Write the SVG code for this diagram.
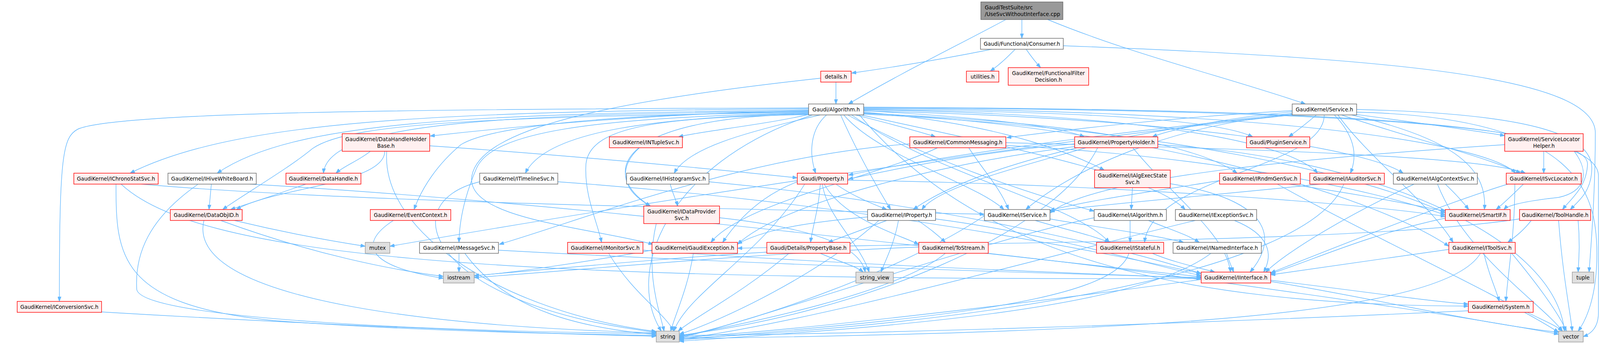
<svg xmlns="http://www.w3.org/2000/svg" width="4596" height="880" viewBox="0 0 4596 880">
<defs>
<marker id="ah" markerWidth="12" markerHeight="9" refX="12" refY="4.5" orient="auto" markerUnits="userSpaceOnUse"><path d="M0,0 L12,4.5 L0,9 z" fill="#63b8ff" stroke="#63b8ff" stroke-width="1"/></marker>
</defs>
<style>
.e{fill:none;stroke:#63b8ff;stroke-width:1.4;marker-end:url(#ah)}
.r{fill:#fff0f0;stroke:#ff0000;stroke-width:1.4}
.w{fill:#ffffff;stroke:#666666;stroke-width:1.4}
.g{fill:#e0e0e0;stroke:#999999;stroke-width:1.4}
.t{fill:#999999;stroke:#666666;stroke-width:1.4}
text{font-family:"DejaVu Sans","Liberation Sans",sans-serif;font-size:13.3px;fill:#000000;text-anchor:middle}
text.l{text-anchor:start}
</style>
<rect x="0" y="0" width="4596" height="880" fill="#ffffff"/>
<g id="edges">
<path class="e" d="M2575,50 C2450,117 2300,190 2172,266"/>
<path class="e" d="M2616,50 L2616,98"/>
<path class="e" d="M2682,50 C2900,140 3150,200 3342,266"/>
<path class="e" d="M2539,126 C2420,150 2300,170 2180,187"/>
<path class="e" d="M2599,126 C2580,145 2560,165 2535,182"/>
<path class="e" d="M2627,126 C2640,145 2652,160 2664,173"/>
<path class="e" d="M2722,117 C3600,150 4084,200 4084,340 C4084,500 4072,640 4068,696"/>
<path class="e" d="M2140,210 L2140,266"/>
<path class="e" d="M2101,200 C1550,260 1230,330 1208,450 C1190,560 1500,580 1672,625"/>
<path class="e" d="M2190,294 C2260,312 2340,332 2395,350"/>
<path class="e" d="M2070,283 C1700,290 1350,320 1101,348"/>
<path class="e" d="M2070,293 C1950,320 1800,335 1737,350"/>
<path class="e" d="M2070,278 C1100,285 600,310 333,443"/>
<path class="e" d="M2070,281 C1200,292 750,310 556,443"/>
<path class="e" d="M2070,284 C1300,293 840,310 828,443"/>
<path class="e" d="M2070,290 C1700,300 1400,330 1345,443"/>
<path class="e" d="M2100,294 C1900,340 1760,380 1726,443"/>
<path class="e" d="M2070,287 C1300,300 900,310 800,380 C740,430 620,500 570,536"/>
<path class="e" d="M2070,286 C1600,290 1260,320 1180,370 C1120,420 1080,480 1060,536"/>
<path class="e" d="M2070,292 C1560,300 1540,450 1665,527"/>
<path class="e" d="M2070,289 C1500,300 1260,340 1220,430 C1190,500 1176,560 1175,620"/>
<path class="e" d="M2070,293 C1700,300 1510,320 1500,420 C1495,500 1530,570 1540,620"/>
<path class="e" d="M2070,276 C1000,279 300,288 200,330 C160,350 152,400 152,771"/>
<path class="e" d="M2080,294 C1700,420 1600,700 1693,847"/>
<path class="e" d="M2116,294 C2075,330 2070,390 2088,443"/>
<path class="e" d="M2152,294 C2190,380 2240,470 2280,536"/>
<path class="e" d="M2211,283 C2500,300 2700,320 2776,350"/>
<path class="e" d="M2211,280 C2700,285 3100,300 3207,350"/>
<path class="e" d="M2211,287 C2500,310 2700,370 2827,435"/>
<path class="e" d="M2211,290 C2700,310 3050,360 3167,443"/>
<path class="e" d="M2211,281 C2900,290 3300,360 3373,443"/>
<path class="e" d="M2211,284 C3000,300 3500,380 3592,443"/>
<path class="e" d="M2211,278 C3200,280 3800,360 3880,443"/>
<path class="e" d="M2160,294 C2250,400 2500,470 2570,536"/>
<path class="e" d="M2170,294 C2400,420 2650,500 2801,540"/>
<path class="e" d="M2205,294 C2600,380 2950,450 3034,536"/>
<path class="e" d="M2180,294 C2400,450 2750,520 2840,620"/>
<path class="e" d="M2211,292 C3000,330 3500,450 3700,545"/>
<path class="e" d="M2211,276 C3500,280 4066,330 4064,420 C4062,480 4020,510 4000,536"/>
<path class="e" d="M2211,289 C3000,330 3550,520 3709,630"/>
<path class="e" d="M2200,294 C2500,650 3000,780 3759,783"/>
<path class="e" d="M2211,274 C3500,280 4092,320 4092,450 C4092,600 4092,750 4092,800 C4092,840 4070,855 4053,861"/>
<path class="e" d="M3370,294 C3345,315 3320,335 3299,350"/>
<path class="e" d="M3473,293 C3600,310 3750,330 3852,347"/>
<path class="e" d="M3416,294 C3470,350 3475,400 3457,443"/>
<path class="e" d="M3434,294 C3600,350 3800,400 3893,443"/>
<path class="e" d="M3308,283 C3000,300 2750,330 2577,352"/>
<path class="e" d="M3308,286 C3150,300 3000,330 2950,350"/>
<path class="e" d="M3308,290 C2900,330 2500,420 2338,536"/>
<path class="e" d="M3308,292 C3000,320 2750,430 2626,536"/>
<path class="e" d="M3390,294 C3390,430 2950,450 2930,620"/>
<path class="e" d="M3460,294 C3700,350 3810,420 3800,536"/>
<path class="e" d="M3473,280 C3900,290 4075,340 4075,430 C4075,490 4040,515 4020,536"/>
<path class="e" d="M3308,294 C2900,330 2400,400 2172,448"/>
<path class="e" d="M3425,294 C3500,400 3660,520 3720,620"/>
<path class="e" d="M3473,287 C4050,300 4088,500 4088,650 C4088,760 4060,820 4040,847"/>
<path class="e" d="M3308,294 C2500,380 1400,560 998,630"/>
<path class="e" d="M2329,368 C1900,400 1500,560 1278,625"/>
<path class="e" d="M2400,378 C2250,450 1900,520 1820,620"/>
<path class="e" d="M2575,365 C3200,380 3800,400 3905,443"/>
<path class="e" d="M2575,372 C3100,400 3500,480 3700,550"/>
<path class="e" d="M2480,378 C2520,440 2560,480 2582,536"/>
<path class="e" d="M2751,368 C2500,390 2300,430 2172,458"/>
<path class="e" d="M2780,378 C2600,430 2400,480 2360,536"/>
<path class="e" d="M2751,375 C2400,420 2000,520 1888,625"/>
<path class="e" d="M2810,378 C2700,600 2200,800 1739,858"/>
<path class="e" d="M2964,370 C3500,400 3980,600 4005,847"/>
<path class="e" d="M2900,378 C3000,500 3140,600 3150,696"/>
<path class="e" d="M2100,471 C2095,540 2080,580 2075,620"/>
<path class="e" d="M2140,471 C2180,500 2230,520 2270,536"/>
<path class="e" d="M2110,471 C2160,560 2300,600 2352,625"/>
<path class="e" d="M2105,471 C2120,560 2200,620 2225,696"/>
<path class="e" d="M2170,461 C2800,470 3500,520 3700,554"/>
<path class="e" d="M2041,465 C1950,500 1890,560 1850,620"/>
<path class="e" d="M2060,471 C1950,650 1760,750 1725,847"/>
<path class="e" d="M2020,648 C1900,750 1780,810 1736,847"/>
<path class="e" d="M2100,648 C2150,670 2190,680 2210,696"/>
<path class="e" d="M1963,645 C1700,660 1400,690 1214,705"/>
<path class="e" d="M2270,564 C2200,590 2160,605 2120,620"/>
<path class="e" d="M2221,555 C2050,570 1950,590 1888,624"/>
<path class="e" d="M2300,564 C2290,620 2270,660 2255,696"/>
<path class="e" d="M2350,564 C2380,585 2400,600 2420,620"/>
<path class="e" d="M2395,560 C2700,600 2950,680 3075,705"/>
<path class="e" d="M2250,564 C2100,700 1850,820 1739,855"/>
<path class="e" d="M2420,648 C2300,750 1900,830 1739,860"/>
<path class="e" d="M2352,632 C1900,650 1500,690 1214,710"/>
<path class="e" d="M2530,648 C3000,700 3700,800 3990,855"/>
<path class="e" d="M2650,564 C2720,585 2790,600 2840,620"/>
<path class="e" d="M2688,560 C2800,580 2950,600 3030,620"/>
<path class="e" d="M2520,552 C2300,700 1900,830 1739,862"/>
<path class="e" d="M2893,564 L2893,620"/>
<path class="e" d="M2940,564 C2990,585 3040,600 3070,620"/>
<path class="e" d="M2801,557 C2500,620 2000,800 1739,865"/>
<path class="e" d="M3160,564 C3250,600 3260,650 3235,696"/>
<path class="e" d="M3060,564 C2700,650 2100,820 1739,868"/>
<path class="e" d="M2899,480 L2896,536"/>
<path class="e" d="M2996,470 C3300,520 3250,640 3200,696"/>
<path class="e" d="M2950,648 C3000,670 3070,685 3110,696"/>
<path class="e" d="M2890,648 C2850,780 2300,820 1739,870"/>
<path class="e" d="M3140,648 C3145,665 3152,680 3158,696"/>
<path class="e" d="M3100,648 C2900,800 2200,840 1739,873"/>
<path class="e" d="M3253,717 C3450,740 3650,770 3759,778"/>
<path class="e" d="M3075,715 C2600,780 2000,850 1739,863"/>
<path class="e" d="M3253,720 C3500,760 3800,830 3990,850"/>
<path class="e" d="M3759,795 C3000,830 2200,855 1739,858"/>
<path class="e" d="M3910,799 C3940,815 3980,830 4000,847"/>
<path class="e" d="M3799,648 C3810,700 3830,740 3838,771"/>
<path class="e" d="M3790,648 C3700,800 3000,850 1739,866"/>
<path class="e" d="M3709,638 C3550,660 3350,690 3253,703"/>
<path class="e" d="M3870,648 C3930,720 3990,800 4010,847"/>
<path class="e" d="M3700,558 C3500,600 3350,670 3253,700"/>
<path class="e" d="M3900,471 C3870,500 3850,520 3830,536"/>
<path class="e" d="M3860,471 C3700,520 3400,640 3253,698"/>
<path class="e" d="M3878,471 C3878,600 3860,700 3855,771"/>
<path class="e" d="M3952,387 L3952,443"/>
<path class="e" d="M4030,387 C4070,440 4060,490 3990,505 C3900,515 3860,525 3850,536"/>
<path class="e" d="M3852,370 C3400,400 2800,450 2688,545"/>
<path class="e" d="M3920,564 C3900,590 3880,605 3860,620"/>
<path class="e" d="M3990,564 C4000,700 4020,800 4025,847"/>
<path class="e" d="M4040,564 C4045,620 4042,660 4040,696"/>
<path class="e" d="M3890,560 C3500,620 2500,620 1888,635"/>
<path class="e" d="M3700,471 C3720,490 3740,510 3760,536"/>
<path class="e" d="M3620,471 C3450,550 3300,640 3240,696"/>
<path class="e" d="M3680,471 C3750,650 3950,780 4000,847"/>
<path class="e" d="M3380,471 C3100,500 2850,520 2688,540"/>
<path class="e" d="M3440,471 C3350,700 2500,830 1739,866"/>
<path class="e" d="M3300,471 C3500,500 3620,525 3700,540"/>
<path class="e" d="M3122,462 C2950,490 2800,510 2688,538"/>
<path class="e" d="M3270,471 C3500,600 3850,760 3990,850"/>
<path class="e" d="M297,471 C297,650 300,780 700,820 C1100,850 1500,855 1680,858"/>
<path class="e" d="M310,471 C500,650 1200,720 3075,712"/>
<path class="e" d="M362,471 C800,510 1600,530 2520,548"/>
<path class="e" d="M541,471 C539,495 537,515 535,536"/>
<path class="e" d="M506,472 C380,560 345,650 350,740 C360,820 1200,850 1680,853"/>
<path class="e" d="M640,471 C1500,520 2500,650 3075,708"/>
<path class="e" d="M783,471 C700,500 640,520 590,536"/>
<path class="e" d="M948,387 C920,410 880,425 860,443"/>
<path class="e" d="M985,387 C985,470 700,480 605,536"/>
<path class="e" d="M1100,373 C1500,400 1900,440 2041,455"/>
<path class="e" d="M990,387 C975,600 1300,800 1680,848"/>
<path class="e" d="M522,564 C470,780 1200,840 1680,851"/>
<path class="e" d="M600,564 C750,600 870,620 935,630"/>
<path class="e" d="M565,564 C800,650 1000,690 1135,707"/>
<path class="e" d="M1007,564 C920,620 930,680 1135,712"/>
<path class="e" d="M1175,648 L1175,696"/>
<path class="e" d="M1190,648 C1300,800 1500,840 1680,856"/>
<path class="e" d="M1276,640 C2000,680 2700,700 3075,710"/>
<path class="e" d="M1558,648 C1620,750 1700,800 1725,847"/>
<path class="e" d="M1646,640 C2200,680 2800,700 3075,712"/>
<path class="e" d="M1775,648 C1760,740 1730,800 1717,847"/>
<path class="e" d="M1669,640 C1500,670 1300,700 1214,705"/>
<path class="e" d="M1716,471 C1720,490 1730,510 1735,527"/>
<path class="e" d="M1815,465 C2400,520 2900,640 3075,700"/>
<path class="e" d="M1637,378 C1590,420 1580,480 1665,527"/>
<path class="e" d="M1842,557 C2050,580 2200,620 2215,696"/>
<path class="e" d="M1680,572 C1650,700 1690,800 1700,847"/>
<path class="e" d="M1428,465 C2200,520 2800,640 3075,700"/>
<path class="e" d="M1228,465 C1000,520 1100,780 1680,850"/>
<path class="e" d="M260,798 C800,830 1400,855 1680,860"/>
</g>
<g id="n_top"><rect class="t" x="2511" y="5" width="210" height="45"/><text class="l" x="2521" y="24">GaudiTestSuite/src</text><text class="l" x="2521" y="41">/UseSvcWithoutInterface.cpp</text></g>
<g id="n_consumer"><rect class="w" x="2510" y="98" width="212" height="28"/><text x="2616" y="117">Gaudi/Functional/Consumer.h</text></g>
<g id="n_details"><rect class="r" x="2101" y="182" width="78" height="28"/><text x="2140" y="201">details.h</text></g>
<g id="n_utilities"><rect class="r" x="2474" y="182" width="83" height="28"/><text x="2515.5" y="201">utilities.h</text></g>
<g id="n_ffd"><rect class="r" x="2581" y="173" width="206" height="45"/><text x="2684" y="192">GaudiKernel/FunctionalFilter</text><text x="2684" y="209">Decision.h</text></g>
<g id="n_algorithm"><rect class="w" x="2070" y="266" width="141" height="28"/><text x="2140.5" y="285">Gaudi/Algorithm.h</text></g>
<g id="n_service"><rect class="w" x="3308" y="266" width="165" height="28"/><text x="3390.5" y="285">GaudiKernel/Service.h</text></g>
<g id="n_dhhb"><rect class="r" x="876" y="342" width="224" height="45"/><text x="988" y="361">GaudiKernel/DataHandleHolder</text><text x="988" y="378">Base.h</text></g>
<g id="n_ntuplesvc"><rect class="r" x="1560" y="350" width="187" height="28"/><text x="1653.5" y="369">GaudiKernel/INTupleSvc.h</text></g>
<g id="n_commonmsg"><rect class="r" x="2329" y="350" width="246" height="28"/><text x="2452" y="369">GaudiKernel/CommonMessaging.h</text></g>
<g id="n_propholder"><rect class="r" x="2751" y="350" width="213" height="28"/><text x="2857.5" y="369">GaudiKernel/PropertyHolder.h</text></g>
<g id="n_plugin"><rect class="r" x="3191" y="350" width="162" height="28"/><text x="3272" y="369">Gaudi/PluginService.h</text></g>
<g id="n_slh"><rect class="r" x="3852" y="342" width="201" height="45"/><text x="3952.5" y="361">GaudiKernel/ServiceLocator</text><text x="3952.5" y="378">Helper.h</text></g>
<g id="n_chrono"><rect class="r" x="189" y="443" width="216" height="28"/><text x="297" y="462">GaudiKernel/IChronoStatSvc.h</text></g>
<g id="n_hive"><rect class="w" x="430" y="443" width="226" height="28"/><text x="543" y="462">GaudiKernel/IHiveWhiteBoard.h</text></g>
<g id="n_datahandle"><rect class="r" x="732" y="443" width="192" height="28"/><text x="828" y="462">GaudiKernel/DataHandle.h</text></g>
<g id="n_timeline"><rect class="w" x="1228" y="443" width="200" height="28"/><text x="1328" y="462">GaudiKernel/ITimelineSvc.h</text></g>
<g id="n_histo"><rect class="w" x="1604" y="443" width="211" height="28"/><text x="1709.5" y="462">GaudiKernel/IHistogramSvc.h</text></g>
<g id="n_property"><rect class="r" x="2041" y="443" width="129" height="28"/><text x="2105.5" y="462">Gaudi/Property.h</text></g>
<g id="n_algexec"><rect class="r" x="2802" y="435" width="194" height="45"/><text x="2899" y="454">GaudiKernel/IAlgExecState</text><text x="2899" y="471">Svc.h</text></g>
<g id="n_rndm"><rect class="r" x="3122" y="443" width="207" height="28"/><text x="3225.5" y="462">GaudiKernel/IRndmGenSvc.h</text></g>
<g id="n_auditor"><rect class="r" x="3353" y="443" width="191" height="28"/><text x="3448.5" y="462">GaudiKernel/IAuditorSvc.h</text></g>
<g id="n_algctx"><rect class="w" x="3567" y="443" width="215" height="28"/><text x="3674.5" y="462">GaudiKernel/IAlgContextSvc.h</text></g>
<g id="n_svcloc"><rect class="r" x="3856" y="443" width="192" height="28"/><text x="3952" y="462">GaudiKernel/ISvcLocator.h</text></g>
<g id="n_dataobjid"><rect class="r" x="436" y="536" width="184" height="28"/><text x="528" y="555">GaudiKernel/DataObjID.h</text></g>
<g id="n_evctx"><rect class="r" x="948" y="536" width="206" height="28"/><text x="1051" y="555">GaudiKernel/EventContext.h</text></g>
<g id="n_dataprov"><rect class="r" x="1648" y="527" width="194" height="45"/><text x="1745" y="546">GaudiKernel/IDataProvider</text><text x="1745" y="563">Svc.h</text></g>
<g id="n_iproperty"><rect class="w" x="2221" y="536" width="174" height="28"/><text x="2308" y="555">GaudiKernel/IProperty.h</text></g>
<g id="n_iservice"><rect class="w" x="2520" y="536" width="168" height="28"/><text x="2604" y="555">GaudiKernel/IService.h</text></g>
<g id="n_ialgorithm"><rect class="w" x="2801" y="536" width="185" height="28"/><text x="2893.5" y="555">GaudiKernel/IAlgorithm.h</text></g>
<g id="n_iexception"><rect class="w" x="3009" y="536" width="208" height="28"/><text x="3113" y="555">GaudiKernel/IExceptionSvc.h</text></g>
<g id="n_smartif"><rect class="r" x="3700" y="536" width="166" height="28"/><text x="3783" y="555">GaudiKernel/SmartIF.h</text></g>
<g id="n_toolhandle"><rect class="r" x="3890" y="536" width="182" height="28"/><text x="3981" y="555">GaudiKernel/ToolHandle.h</text></g>
<g id="n_mutex"><rect class="g" x="935" y="620" width="63" height="28"/><text x="966.5" y="639">mutex</text></g>
<g id="n_msgsvc"><rect class="w" x="1074" y="620" width="202" height="28"/><text x="1175" y="639">GaudiKernel/IMessageSvc.h</text></g>
<g id="n_monitor"><rect class="r" x="1453" y="620" width="193" height="28"/><text x="1549.5" y="639">GaudiKernel/IMonitorSvc.h</text></g>
<g id="n_gexc"><rect class="r" x="1669" y="620" width="219" height="28"/><text x="1778.5" y="639">GaudiKernel/GaudiException.h</text></g>
<g id="n_propbase"><rect class="r" x="1963" y="620" width="213" height="28"/><text x="2069.5" y="639">Gaudi/Details/PropertyBase.h</text></g>
<g id="n_tostream"><rect class="r" x="2352" y="620" width="178" height="28"/><text x="2441" y="639">GaudiKernel/ToStream.h</text></g>
<g id="n_istateful"><rect class="r" x="2807" y="620" width="172" height="28"/><text x="2893" y="639">GaudiKernel/IStateful.h</text></g>
<g id="n_inamed"><rect class="w" x="3003" y="620" width="226" height="28"/><text x="3116" y="639">GaudiKernel/INamedInterface.h</text></g>
<g id="n_toolsvc"><rect class="r" x="3709" y="620" width="170" height="28"/><text x="3794" y="639">GaudiKernel/IToolSvc.h</text></g>
<g id="n_tuple"><rect class="g" x="4025" y="696" width="55" height="28"/><text x="4052.5" y="715">tuple</text></g>
<g id="n_iostream"><rect class="g" x="1135" y="696" width="79" height="28"/><text x="1174.5" y="715">iostream</text></g>
<g id="n_stringview"><rect class="g" x="2191" y="696" width="96" height="28"/><text x="2239" y="715">string_view</text></g>
<g id="n_iinterface"><rect class="r" x="3075" y="696" width="178" height="28"/><text x="3164" y="715">GaudiKernel/IInterface.h</text></g>
<g id="n_conversion"><rect class="r" x="44" y="771" width="216" height="28"/><text x="152" y="790">GaudiKernel/IConversionSvc.h</text></g>
<g id="n_system"><rect class="r" x="3759" y="771" width="166" height="28"/><text x="3842" y="790">GaudiKernel/System.h</text></g>
<g id="n_string"><rect class="g" x="1680" y="847" width="59" height="28"/><text x="1709.5" y="866">string</text></g>
<g id="n_vector"><rect class="g" x="3990" y="847" width="63" height="28"/><text x="4021.5" y="866">vector</text></g>
</svg>
